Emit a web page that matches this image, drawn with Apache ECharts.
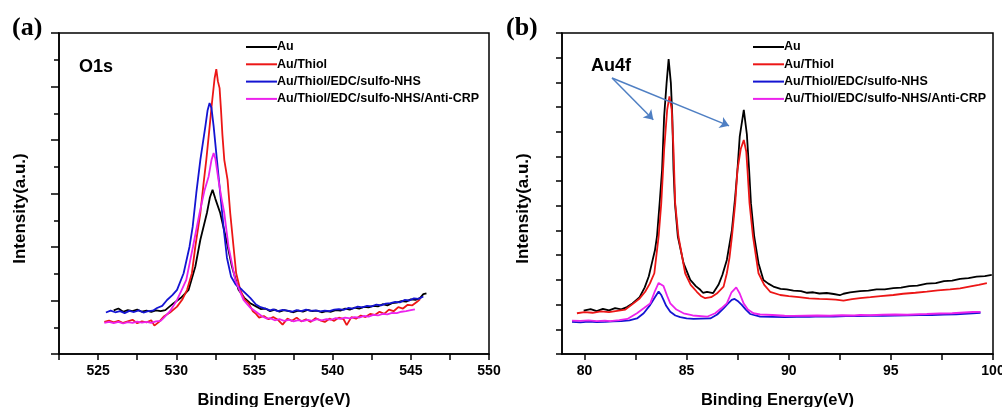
<!DOCTYPE html>
<html>
<head>
<meta charset="utf-8">
<script src="https://cdn.jsdelivr.net/npm/echarts@6/dist/echarts.min.js"></script>
<style>
  html, body { margin: 0; padding: 0; background: #fff; }
  #chart { width: 1002px; height: 407px; }
</style>
</head>
<body>
<div id="chart"></div>
<script>
// Sample names (legend order)
const sampleNames = ['Au', 'Au/Thiol', 'Au/Thiol/EDC/sulfo-NHS', 'Au/Thiol/EDC/sulfo-NHS/Anti-CRP'];
const sampleColors = ['#000000', '#ec1616', '#1414d2', '#ec22ec'];

// O1s region: [binding energy (eV), intensity (a.u.)]
const o1sAu = [[526.0,1.63],[526.3,1.7],[526.6,1.58],[526.9,1.64],[527.2,1.6],[527.5,1.66],[527.8,1.58],[528.1,1.62],[528.4,1.57],[528.7,1.63],[529.0,1.6],[529.3,1.64],[529.83,1.9],[530.3,2.1],[530.79,2.4],[531.22,3.27],[531.54,4.27],[531.96,5.27],[532.15,5.85],[532.32,6.14],[532.5,5.8],[532.81,5.27],[533.2,4.27],[533.56,3.27],[533.98,2.4],[534.35,2.1],[534.73,1.9],[535.1,1.78],[535.4,1.68],[535.7,1.7],[536.0,1.6],[536.3,1.66],[536.6,1.58],[536.9,1.64],[537.2,1.6],[537.5,1.56],[537.8,1.62],[538.1,1.58],[538.4,1.65],[538.7,1.6],[539.0,1.62],[539.3,1.56],[539.6,1.6],[539.9,1.58],[540.2,1.64],[540.5,1.62],[540.8,1.7],[541.1,1.66],[541.4,1.73],[541.7,1.7],[542.0,1.76],[542.3,1.74],[542.6,1.8],[542.9,1.78],[543.2,1.86],[543.5,1.82],[543.8,1.9],[544.1,1.92],[544.4,1.98],[544.7,1.96],[545.0,2.04],[545.3,2.02],[545.6,2.1],[545.8,2.24],[546.0,2.27]];
const o1sThiol = [[525.4,1.2],[525.7,1.25],[526.0,1.18],[526.3,1.24],[526.6,1.16],[526.9,1.22],[527.2,1.28],[527.5,1.15],[527.8,1.22],[528.1,1.18],[528.4,1.26],[528.6,1.06],[528.9,1.2],[529.2,1.4],[529.6,1.55],[530.05,1.77],[530.4,2.05],[530.69,2.4],[531.0,3.02],[531.22,4.02],[531.54,5.27],[531.75,6.4],[531.92,7.26],[532.1,8.3],[532.28,9.38],[532.45,10.3],[532.56,10.65],[532.66,10.2],[532.77,9.94],[532.86,9.13],[532.95,8.2],[533.07,7.26],[533.28,6.51],[533.45,5.27],[533.66,4.02],[533.83,3.02],[534.09,2.4],[534.35,2.05],[534.62,1.9],[534.9,1.6],[535.1,1.5],[535.3,1.36],[535.6,1.42],[535.9,1.3],[536.2,1.38],[536.5,1.28],[536.8,1.1],[537.1,1.32],[537.4,1.24],[537.7,1.36],[538.0,1.22],[538.3,1.3],[538.6,1.2],[538.9,1.34],[539.2,1.26],[539.5,1.2],[539.8,1.32],[540.1,1.24],[540.4,1.36],[540.7,1.3],[540.9,1.08],[541.2,1.38],[541.5,1.32],[541.8,1.44],[542.1,1.38],[542.4,1.5],[542.7,1.46],[543.0,1.58],[543.3,1.5],[543.6,1.66],[543.9,1.6],[544.2,1.75],[544.5,1.7],[544.8,1.84],[545.1,1.82],[545.4,1.95],[545.6,2.05]];
const o1sEdc = [[525.5,1.55],[525.8,1.62],[526.1,1.56],[526.4,1.6],[526.7,1.53],[527.0,1.61],[527.3,1.57],[527.6,1.63],[527.9,1.55],[528.2,1.6],[528.5,1.62],[528.77,1.72],[529.1,1.8],[529.41,2.02],[529.75,2.2],[530.05,2.4],[530.47,3.02],[530.85,4.02],[531.05,4.76],[531.28,6.01],[531.54,7.26],[531.86,8.51],[532.0,9.1],[532.13,9.38],[532.25,9.2],[532.39,8.51],[532.6,7.26],[532.81,6.01],[533.02,4.76],[533.24,3.6],[533.5,2.9],[533.8,2.6],[534.2,2.4],[534.73,2.1],[535.1,1.85],[535.4,1.75],[535.7,1.7],[536.0,1.63],[536.2,1.67],[536.5,1.6],[536.8,1.65],[537.1,1.62],[537.4,1.58],[537.7,1.64],[538.0,1.6],[538.3,1.66],[538.6,1.61],[538.9,1.63],[539.2,1.59],[539.5,1.62],[539.8,1.6],[540.1,1.66],[540.4,1.68],[540.7,1.65],[541.0,1.72],[541.3,1.7],[541.6,1.77],[541.9,1.74],[542.2,1.8],[542.5,1.78],[542.8,1.85],[543.1,1.82],[543.4,1.88],[543.7,1.9],[544.0,1.95],[544.3,1.93],[544.6,2.02],[544.9,2.0],[545.2,2.08],[545.5,2.06],[545.8,2.15]];
const o1sAnti = [[525.4,1.16],[525.7,1.2],[526.0,1.15],[526.3,1.2],[526.6,1.14],[526.9,1.19],[527.2,1.16],[527.5,1.21],[527.8,1.17],[528.1,1.2],[528.4,1.16],[528.7,1.22],[529.0,1.24],[529.2,1.35],[529.6,1.6],[530.05,2.02],[530.35,2.4],[530.64,2.77],[531.07,4.02],[531.49,5.27],[531.8,6.1],[532.07,6.64],[532.25,7.25],[532.39,7.51],[532.5,7.3],[532.7,6.5],[532.9,5.8],[533.07,5.27],[533.34,4.02],[533.77,2.77],[534.3,2.02],[534.7,1.75],[535.16,1.55],[535.5,1.4],[535.8,1.32],[536.0,1.34],[536.3,1.26],[536.6,1.3],[536.9,1.24],[537.2,1.28],[537.5,1.22],[537.8,1.27],[538.1,1.23],[538.4,1.28],[538.7,1.24],[539.0,1.3],[539.3,1.26],[539.6,1.3],[539.9,1.28],[540.2,1.34],[540.5,1.31],[540.8,1.36],[541.1,1.33],[541.4,1.38],[541.7,1.36],[542.0,1.42],[542.3,1.4],[542.6,1.46],[542.9,1.44],[543.2,1.5],[543.5,1.48],[543.8,1.54],[544.1,1.53],[544.4,1.58],[544.7,1.6],[545.0,1.64],[545.26,1.67]];

// Au4f region: [binding energy (eV), intensity (a.u.)]
const au4fAu = [[79.96,1.76],[80.3,1.82],[80.6,1.74],[80.9,1.83],[81.2,1.77],[81.5,1.86],[81.8,1.81],[82.08,1.9],[82.35,2.05],[82.7,2.3],[82.95,2.7],[83.15,3.15],[83.3,3.68],[83.45,4.2],[83.55,4.76],[83.68,6.11],[83.8,7.46],[83.9,9.62],[84.02,10.97],[84.12,11.94],[84.23,10.97],[84.3,9.62],[84.36,7.46],[84.43,6.11],[84.57,4.76],[84.85,3.68],[85.18,3.0],[85.45,2.75],[85.67,2.6],[85.8,2.48],[86.0,2.52],[86.3,2.47],[86.56,2.8],[86.75,3.2],[86.97,3.81],[87.22,5.03],[87.38,6.38],[87.49,7.46],[87.6,8.8],[87.8,9.89],[87.95,8.9],[88.06,7.46],[88.15,6.11],[88.31,4.76],[88.52,3.68],[88.76,3.0],[89.0,2.85],[89.25,2.73],[89.6,2.64],[89.9,2.62],[90.23,2.57],[90.6,2.55],[90.9,2.48],[91.2,2.5],[91.5,2.45],[91.86,2.47],[92.2,2.43],[92.5,2.38],[92.68,2.44],[93.0,2.5],[93.49,2.55],[93.9,2.57],[94.3,2.62],[94.7,2.62],[95.12,2.67],[95.5,2.69],[95.9,2.75],[96.3,2.77],[96.76,2.85],[97.2,2.87],[97.6,2.95],[98.0,2.97],[98.39,3.04],[98.8,3.07],[99.2,3.13],[99.6,3.15],[99.94,3.2]];
const au4fThiol = [[79.63,1.65],[80.0,1.7],[80.4,1.67],[80.8,1.73],[81.2,1.7],[81.6,1.75],[82.0,1.8],[82.4,2.05],[82.7,2.25],[82.97,2.52],[83.2,2.85],[83.42,3.27],[83.63,4.76],[83.76,6.11],[83.9,8.27],[84.05,9.9],[84.16,10.43],[84.27,9.9],[84.36,8.27],[84.44,6.11],[84.6,4.76],[84.93,3.27],[85.2,2.8],[85.5,2.52],[85.7,2.35],[85.91,2.26],[86.2,2.3],[86.48,2.45],[86.81,2.73],[86.97,3.27],[87.1,3.9],[87.22,4.76],[87.38,6.11],[87.49,7.46],[87.65,8.3],[87.8,8.67],[87.92,8.2],[87.98,7.46],[88.08,6.11],[88.25,4.76],[88.52,3.27],[88.8,2.8],[89.09,2.52],[89.58,2.39],[90.0,2.34],[90.5,2.3],[91.0,2.25],[91.5,2.23],[91.86,2.22],[92.3,2.2],[92.68,2.16],[93.1,2.22],[93.49,2.26],[94.0,2.3],[94.5,2.34],[95.12,2.39],[95.6,2.44],[96.2,2.48],[96.76,2.53],[97.3,2.58],[97.9,2.62],[98.39,2.66],[98.9,2.74],[99.3,2.8],[99.7,2.87]];
const au4fEdc = [[79.39,1.3],[79.8,1.28],[80.2,1.31],[80.6,1.29],[81.0,1.3],[81.4,1.32],[81.8,1.33],[82.2,1.36],[82.57,1.44],[82.9,1.65],[83.22,1.99],[83.45,2.3],[83.63,2.53],[83.75,2.4],[83.87,2.19],[84.0,1.95],[84.2,1.71],[84.45,1.56],[84.69,1.49],[85.0,1.44],[85.34,1.42],[85.7,1.43],[86.16,1.44],[86.5,1.6],[86.81,1.85],[87.0,2.02],[87.21,2.19],[87.35,2.23],[87.5,2.15],[87.7,1.99],[87.9,1.8],[88.11,1.62],[88.6,1.51],[89.2,1.5],[89.8,1.49],[90.4,1.5],[91.0,1.5],[91.6,1.52],[92.2,1.51],[92.8,1.53],[93.4,1.53],[94.0,1.55],[94.6,1.55],[95.2,1.56],[95.8,1.57],[96.4,1.58],[97.0,1.58],[97.6,1.6],[98.2,1.61],[98.8,1.64],[99.39,1.67]];
const au4fAnti = [[79.39,1.35],[79.8,1.34],[80.2,1.36],[80.6,1.33],[81.0,1.35],[81.26,1.33],[81.7,1.37],[82.1,1.42],[82.57,1.65],[82.9,1.85],[83.22,2.05],[83.45,2.55],[83.63,2.88],[83.71,2.93],[83.87,2.75],[84.05,2.35],[84.2,2.05],[84.5,1.8],[84.85,1.65],[85.3,1.56],[86.0,1.51],[86.4,1.65],[86.7,1.85],[86.97,2.05],[87.2,2.5],[87.43,2.7],[87.6,2.45],[87.79,2.05],[88.0,1.8],[88.27,1.65],[88.6,1.6],[89.2,1.58],[89.8,1.55],[90.23,1.54],[90.8,1.55],[91.4,1.56],[92.0,1.55],[92.6,1.57],[93.2,1.56],[93.49,1.58],[94.0,1.57],[94.6,1.59],[95.2,1.6],[95.8,1.59],[96.4,1.61],[96.76,1.62],[97.4,1.64],[98.0,1.65],[98.6,1.68],[99.0,1.7],[99.39,1.71]];

// Axis ranges, tick positions and labels
const o1sRange = [522.5, 550];
const o1sTicks = [522.5, 525, 527.5, 530, 532.5, 535, 537.5, 540, 542.5, 545, 547.5, 550];
const o1sLabels = [525, 530, 535, 540, 545, 550];
const au4fRange = [78.9, 100];
const au4fTicks = [80, 82.5, 85, 87.5, 90, 92.5, 95, 97.5, 100];
const au4fLabels = [80, 85, 90, 95, 100];

// Arrows from the "Au4f" label to the two spin-orbit peaks: [start, end]
const au4fArrows = [[[81.35, 11.18], [83.37, 9.49]], [[81.35, 11.18], [87.08, 9.24]]];

const SANS = '"Liberation Sans", Arial, sans-serif';
const SERIF = '"Liberation Serif", "Times New Roman", serif';

const chart = echarts.init(document.getElementById('chart'), null, { renderer: 'canvas' });

function xAxisFor(gridIndex, range, ticks, labels) {
  return {
    type: 'value', gridIndex, min: range[0], max: range[1],
    name: 'Binding Energy(eV)', nameLocation: 'middle', nameGap: 38,
    nameTextStyle: { fontFamily: SANS, fontWeight: 'bold', fontSize: 16.5, color: '#000' },
    axisLine: { show: true, onZero: false, lineStyle: { color: '#000', width: 1.5 } },
    axisTick: { show: true, inside: false, length: 6, customValues: ticks, lineStyle: { color: '#000', width: 1.5 } },
    axisLabel: { show: true, customValues: labels, margin: 10, fontFamily: SANS, fontWeight: 'bold', fontSize: 14, color: '#000' },
    splitLine: { show: false }
  };
}

function yAxisFor(gridIndex, max, interval, minor) {
  return {
    type: 'value', gridIndex, min: 0, max, interval,
    name: 'Intensity(a.u.)', nameLocation: 'middle', nameGap: 30, nameRotate: 90,
    nameTextStyle: { fontFamily: SANS, fontWeight: 'bold', fontSize: 17, color: '#000', padding: [0, 30, 0, 0] },
    axisLine: { show: true, onZero: false, lineStyle: { color: '#000', width: 1.5 } },
    axisTick: { show: true, inside: false, length: minor ? 8 : 6, lineStyle: { color: '#000', width: 1.5 } },
    minorTick: { show: minor, splitNumber: 2, length: 5, lineStyle: { color: '#000', width: 1.5 } },
    axisLabel: { show: false },
    splitLine: { show: false },
    minorSplitLine: { show: false }
  };
}

function lineSeries(name, data, color, xi, extra) {
  return Object.assign({
    type: 'line', name, data, xAxisIndex: xi, yAxisIndex: xi,
    showSymbol: false, symbol: 'none', smooth: false,
    lineStyle: { color, width: 1.8 }, itemStyle: { color },
    emphasis: { disabled: true }, animation: false
  }, extra || {});
}

const legendBase = {
  orient: 'vertical', data: sampleNames, itemWidth: 31, itemHeight: 2, itemGap: 3.3,
  icon: 'rect', padding: 0, selectedMode: false,
  textStyle: { fontFamily: SANS, fontWeight: 'bold', fontSize: 12.5, color: '#000', lineHeight: 14, padding: [0, 0, 0, -5] }
};

const gridBase = {
  show: true, borderColor: '#000', borderWidth: 1.5, backgroundColor: 'transparent',
  containLabel: false, outerBoundsMode: 'none'
};

const option = {
  backgroundColor: '#fff',
  animation: false,
  grid: [
    Object.assign({}, gridBase, { left: 59, right: 513, top: 33, bottom: 53 }),
    Object.assign({}, gridBase, { left: 562, right: 9, top: 33, bottom: 53 })
  ],
  xAxis: [
    xAxisFor(0, o1sRange, o1sTicks, o1sLabels),
    xAxisFor(1, au4fRange, au4fTicks, au4fLabels)
  ],
  yAxis: [
    yAxisFor(0, 12, 2, true),
    yAxisFor(1, 13, 1, false)
  ],
  legend: [
    Object.assign({}, legendBase, { left: 246, top: 40 }),
    Object.assign({}, legendBase, { left: 753, top: 40 })
  ],
  graphic: [
    { type: 'text', left: 12, top: 15, style: { text: '(a)', font: 'bold 26px ' + SERIF, fill: '#000' } },
    { type: 'text', left: 506, top: 15, style: { text: '(b)', font: 'bold 26px ' + SERIF, fill: '#000' } },
    { type: 'text', left: 79, top: 58, style: { text: 'O1s', font: 'bold 18px ' + SANS, fill: '#000' } },
    { type: 'text', left: 591, top: 57, style: { text: 'Au4f', font: 'bold 18px ' + SANS, fill: '#000' } }
  ],
  series: [
    lineSeries(sampleNames[0], o1sAu, sampleColors[0], 0),
    lineSeries(sampleNames[1], o1sThiol, sampleColors[1], 0),
    lineSeries(sampleNames[2], o1sEdc, sampleColors[2], 0),
    lineSeries(sampleNames[3], o1sAnti, sampleColors[3], 0),
    lineSeries(sampleNames[0], au4fAu, sampleColors[0], 1, {
      markLine: {
        silent: true, animation: false,
        symbol: ['none', 'arrow'], symbolSize: 9,
        label: { show: false },
        lineStyle: { color: '#4f7fc3', width: 1.5, type: 'solid' },
        emphasis: { disabled: true },
        data: au4fArrows.map(a => [{ coord: a[0] }, { coord: a[1] }])
      }
    }),
    lineSeries(sampleNames[1], au4fThiol, sampleColors[1], 1),
    lineSeries(sampleNames[2], au4fEdc, sampleColors[2], 1),
    lineSeries(sampleNames[3], au4fAnti, sampleColors[3], 1)
  ]
};

chart.setOption(option);
</script>
</body>
</html>
